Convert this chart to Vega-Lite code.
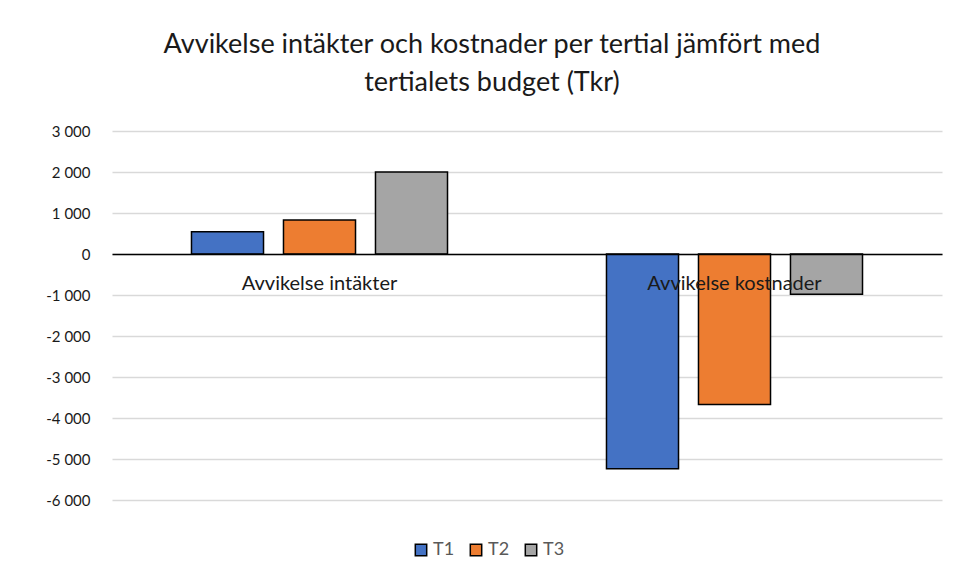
{
  "$schema": "https://vega.github.io/schema/vega-lite/v6.json",
  "width": 830,
  "height": 369,
  "autosize": {"type": "none"},
  "padding": {"left": 112, "top": 131, "right": 20, "bottom": 81},
  "background": "white",
  "title": {
    "text": ["Avvikelse intäkter och kostnader per tertial jämfört med", "tertialets budget (Tkr)"],
    "anchor": "middle",
    "dx": -35,
    "offset": 27,
    "font": "Lato",
    "fontSize": 27,
    "fontWeight": "normal",
    "color": "#1a1a1a",
    "lineHeight": 38
  },
  "data": {
    "values": [
      {"kategori": "Avvikelse intäkter", "tertial": "T1", "varde": 540},
      {"kategori": "Avvikelse intäkter", "tertial": "T2", "varde": 830},
      {"kategori": "Avvikelse intäkter", "tertial": "T3", "varde": 2000},
      {"kategori": "Avvikelse kostnader", "tertial": "T1", "varde": -5240},
      {"kategori": "Avvikelse kostnader", "tertial": "T2", "varde": -3670},
      {"kategori": "Avvikelse kostnader", "tertial": "T3", "varde": -980}
    ]
  },
  "mark": {"type": "bar", "stroke": "black", "strokeWidth": 1.5},
  "encoding": {
    "x": {
      "field": "kategori",
      "type": "nominal",
      "sort": null,
      "scale": {"paddingInner": 0, "paddingOuter": 0},
      "axis": {
        "title": null,
        "labelAngle": 0,
        "offset": -246,
        "zindex": 1,
        "ticks": false,
        "domainColor": "black",
        "domainWidth": 1.5,
        "labelPadding": 19,
        "labelFont": "Lato",
        "labelFontSize": 20,
        "labelColor": "#1a1a1a",
        "grid": false
      }
    },
    "xOffset": {
      "field": "tertial",
      "type": "nominal",
      "scale": {"paddingInner": 0.217, "paddingOuter": 0.864}
    },
    "y": {
      "field": "varde",
      "type": "quantitative",
      "scale": {"domain": [-6000, 3000], "nice": false},
      "axis": {
        "title": null,
        "values": [-6000, -5000, -4000, -3000, -2000, -1000, 0, 1000, 2000, 3000],
        "labelExpr": "replace(replace(format(datum.value, ',d'), ',', ' '), '−', '-')",
        "domain": false,
        "ticks": false,
        "labelPadding": 22,
        "labelFont": "Lato",
        "labelFontSize": 15,
        "labelColor": "#1a1a1a",
        "gridColor": "#d9d9d9",
        "gridWidth": 1.5
      }
    },
    "color": {
      "field": "tertial",
      "type": "nominal",
      "scale": {"domain": ["T1", "T2", "T3"], "range": ["#4472C4", "#ED7D31", "#A5A5A5"]},
      "legend": {
        "title": null,
        "orient": "none",
        "direction": "horizontal",
        "legendX": 300,
        "legendY": 410,
        "symbolType": "square",
        "symbolSize": 130,
        "symbolStrokeColor": "black",
        "symbolStrokeWidth": 1.5,
        "labelFont": "Lato",
        "labelFontSize": 18,
        "labelColor": "#595959",
        "columnPadding": 12,
        "labelOffset": 3
      }
    }
  },
  "config": {
    "view": {"stroke": null}
  }
}
